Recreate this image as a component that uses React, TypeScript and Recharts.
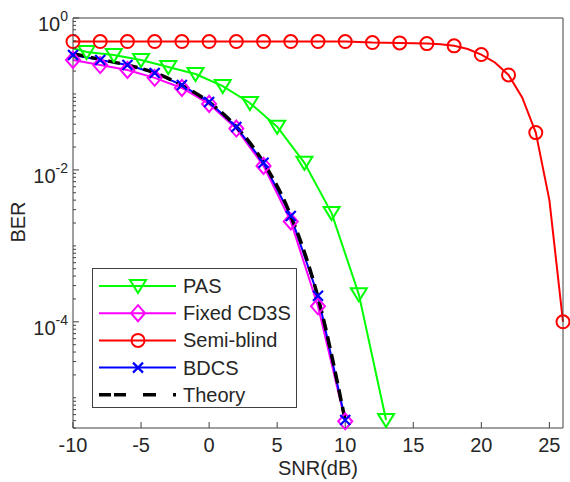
import React from "react";
import { ComposedChart, Line, XAxis, YAxis } from "recharts";

// SNR grid for most curves
const snrEven = [-10, -8, -6, -4, -2, 0, 2, 4, 6, 8, 10];

const pasSnr = [-10, -9, -7, -5, -3, -1, 1, 3, 5, 7, 9, 11, 13];
const pasBer = [0.4, 0.357, 0.326, 0.28, 0.226, 0.183, 0.127, 0.076, 0.037, 0.0124, 0.0027, 2.3e-4, 5.1e-6];

const fixedBer = [0.28, 0.24, 0.207, 0.163, 0.12, 0.074, 0.035, 0.0113, 0.0021, 1.6e-4, 4.9e-6];
const bdcsBer = [0.326, 0.28, 0.24, 0.189, 0.131, 0.0785, 0.0368, 0.0124, 0.00248, 2.2e-4, 5.1e-6];
const theoryBer = [0.34, 0.285, 0.24, 0.19, 0.13, 0.078, 0.037, 0.0125, 0.0025, 2.1e-4, 5e-6];

const semiSnr = [-10, -8, -6, -4, -2, 0, 2, 4, 6, 8, 10, 12, 14, 16, 17, 18, 19, 20, 21, 22, 23, 24, 25, 26];
const semiBer = [
  0.49, 0.49, 0.49, 0.49, 0.49, 0.49, 0.49, 0.49, 0.49, 0.49, 0.49,
  0.475, 0.47, 0.46, 0.45, 0.43, 0.39, 0.33, 0.26, 0.178, 0.09, 0.031, 0.004, 1.0e-4,
];

const xTicks = [-10, -5, 0, 5, 10, 15, 20, 25];
const yLabelTicks = [1, 1e-2, 1e-4];
const yLabelExp = ["0", "-2", "-4"];

const Y_MIN = 4e-6;
const yTicks: number[] = [];
for (let d = -6; d <= 0; d++) {
  for (let k = 1; k <= 9; k++) {
    const v = k * Math.pow(10, d);
    if (v >= Y_MIN && v <= 1.0000001) yTicks.push(v);
  }
}

const zip = (xs: number[], ys: number[]) => xs.map((x, i) => ({ x, y: ys[i] }));
const pasData = zip(pasSnr, pasBer);
const fixedData = zip(snrEven, fixedBer);
const bdcsData = zip(snrEven, bdcsBer);
const theoryData = zip(snrEven, theoryBer);
const semiData = zip(semiSnr, semiBer);

const FONT = "'Liberation Sans', Arial, Helvetica, sans-serif";
const AXIS = "#404040";
const TXT = "#262626";

const GREEN = "#00ff00";
const MAGENTA = "#ff00ff";
const RED = "#ff0000";
const BLUE = "#0000ff";

const Tri = ({ cx, cy, color }: any) => (
  <path d={`M${cx - 8},${cy - 6} L${cx + 8},${cy - 6} L${cx},${cy + 7} Z`} fill="none" stroke={color} strokeWidth={2} />
);
const Diamond = ({ cx, cy, color }: any) => (
  <path d={`M${cx},${cy - 8} L${cx + 7},${cy} L${cx},${cy + 8} L${cx - 7},${cy} Z`} fill="none" stroke={color} strokeWidth={2} />
);
const Circ = ({ cx, cy, color }: any) => (
  <circle cx={cx} cy={cy} r={6.5} fill="none" stroke={color} strokeWidth={2} />
);
const Cross = ({ cx, cy, color }: any) => (
  <path d={`M${cx - 5},${cy - 5} L${cx + 5},${cy + 5} M${cx - 5},${cy + 5} L${cx + 5},${cy - 5}`} stroke={color} strokeWidth={2.2} />
);

const pasDot = (p: any) =>
  p.payload.x === -10 ? <g key={p.key} /> : <Tri key={p.key} cx={p.cx} cy={p.cy} color={GREEN} />;
const fixedDot = (p: any) => <Diamond key={p.key} cx={p.cx} cy={p.cy} color={MAGENTA} />;
const semiDot = (p: any) =>
  p.payload.x % 2 !== 0 ? <g key={p.key} /> : <Circ key={p.key} cx={p.cx} cy={p.cy} color={RED} />;
const bdcsDot = (p: any) => <Cross key={p.key} cx={p.cx} cy={p.cy} color={BLUE} />;

const isMajor = (v: number) => yLabelTicks.findIndex((t) => Math.abs(Math.log10(t) - Math.log10(v)) < 1e-6);

const bottomTick = ({ x, y, payload }: any) => (
  <g>
    <line x1={x} y1={y} x2={x} y2={y - 6} stroke={AXIS} />
    <text x={x} y={y + 24} textAnchor="middle" fontSize={20} fill={TXT} fontFamily={FONT}>
      {payload.value}
    </text>
  </g>
);
const topTick = ({ x, y }: any) => <line x1={x} y1={y} x2={x} y2={y + 6} stroke={AXIS} />;

const leftTick = ({ x, y, payload }: any) => {
  const idx = isMajor(payload.value);
  const major = idx >= 0;
  return (
    <g>
      <line x1={x} y1={y} x2={x + (major ? 6 : 3)} y2={y} stroke={AXIS} />
      {major && (
        <text x={x - 5} y={y + 13} textAnchor="end" fill={TXT} fontFamily={FONT}>
          <tspan fontSize={20}>10</tspan>
          <tspan fontSize={14} dy={-10}>{yLabelExp[idx]}</tspan>
        </text>
      )}
    </g>
  );
};
const rightTick = ({ x, y, payload }: any) => {
  const major = isMajor(payload.value) >= 0;
  return <line x1={x} y1={y} x2={x - (major ? 6 : 3)} y2={y} stroke={AXIS} />;
};

const legendItems = [
  { name: "PAS", color: GREEN, kind: "tri" },
  { name: "Fixed CD3S", color: MAGENTA, kind: "diamond" },
  { name: "Semi-blind", color: RED, kind: "circ" },
  { name: "BDCS", color: BLUE, kind: "cross" },
  { name: "Theory", color: "#000000", kind: "dash" },
];

function LegendBox() {
  return (
    <div
      style={{
        position: "absolute",
        left: 92,
        top: 268,
        width: 205,
        height: 140,
        border: `1px solid ${AXIS}`,
        background: "#ffffff",
        boxSizing: "border-box",
      }}
    >
      <svg width={205} height={140}>
        {legendItems.map((it, i) => {
          const cy = 17 + i * 27.2;
          const cx = 45;
          return (
            <g key={it.name}>
              {it.kind === "dash" ? (
                <line x1={6} y1={cy} x2={83} y2={cy} stroke="#000" strokeWidth={3.5} strokeDasharray="12 3 12 17 13 17 3 40" />
              ) : (
                <line x1={6} y1={cy} x2={83} y2={cy} stroke={it.color} strokeWidth={2} />
              )}
              {it.kind === "tri" && <Tri cx={cx} cy={cy} color={it.color} />}
              {it.kind === "diamond" && <Diamond cx={cx} cy={cy} color={it.color} />}
              {it.kind === "circ" && <Circ cx={cx} cy={cy} color={it.color} />}
              {it.kind === "cross" && <Cross cx={cx} cy={cy} color={it.color} />}
              <text x={90} y={cy + 7} fontSize={20} fill={TXT} fontFamily={FONT}>
                {it.name}
              </text>
            </g>
          );
        })}
      </svg>
    </div>
  );
}

export default function App() {
  return (
    <div style={{ position: "absolute", left: 0, top: 0, width: 570, height: 482, background: "#fff" }}>
      <ComposedChart width={570} height={482} margin={{ top: 0, right: 0, bottom: 0, left: 0 }}>
        <XAxis
          dataKey="x"
          type="number"
          domain={[-10, 26]}
          ticks={xTicks}
          height={54}
          tickSize={0}
          tickMargin={0}
          tickLine={false}
          stroke={AXIS}
          tick={bottomTick}
          interval={0}
        />
        <XAxis
          xAxisId="top"
          orientation="top"
          dataKey="x"
          type="number"
          domain={[-10, 26]}
          ticks={xTicks}
          height={18}
          tickSize={0}
          tickMargin={0}
          tickLine={false}
          stroke={AXIS}
          tick={topTick}
          interval={0}
        />
        <YAxis
          type="number"
          scale="log"
          domain={[Y_MIN, 1]}
          ticks={yTicks}
          width={73}
          tickSize={0}
          tickMargin={0}
          tickLine={false}
          stroke={AXIS}
          tick={leftTick}
          interval={0}
        />
        <YAxis
          yAxisId="right"
          orientation="right"
          type="number"
          scale="log"
          domain={[Y_MIN, 1]}
          ticks={yTicks}
          width={7}
          tickSize={0}
          tickMargin={0}
          tickLine={false}
          stroke={AXIS}
          tick={rightTick}
          interval={0}
        />
        <Line data={pasData} dataKey="y" stroke={GREEN} strokeWidth={2} dot={pasDot} isAnimationActive={false} />
        <Line data={fixedData} dataKey="y" stroke={MAGENTA} strokeWidth={2} dot={fixedDot} isAnimationActive={false} />
        <Line data={semiData} dataKey="y" stroke={RED} strokeWidth={2} dot={semiDot} isAnimationActive={false} />
        <Line data={bdcsData} dataKey="y" stroke={BLUE} strokeWidth={2} dot={bdcsDot} isAnimationActive={false} />
        <Line
          data={theoryData}
          dataKey="y"
          type="monotone"
          stroke="#000"
          strokeWidth={3.5}
          strokeDasharray="12 6"
          dot={false}
          isAnimationActive={false}
        />
      </ComposedChart>
      <div
        style={{
          position: "absolute",
          left: 268,
          top: 456,
          width: 100,
          textAlign: "center",
          fontFamily: FONT,
          fontSize: 20,
          color: TXT,
          lineHeight: "24px",
        }}
      >
        SNR(dB)
      </div>
      <div
        style={{
          position: "absolute",
          left: -32,
          top: 210,
          width: 100,
          textAlign: "center",
          fontFamily: FONT,
          fontSize: 20,
          color: TXT,
          lineHeight: "24px",
          transform: "rotate(-90deg)",
        }}
      >
        BER
      </div>
      <LegendBox />
    </div>
  );
}
